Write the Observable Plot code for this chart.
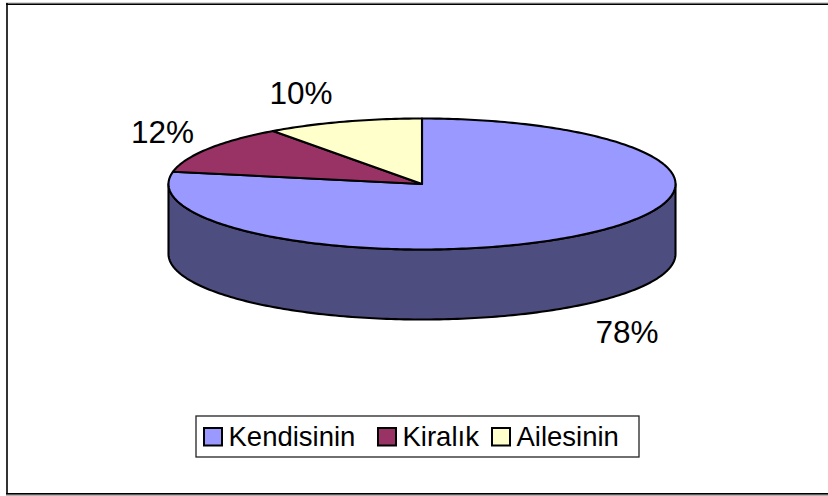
<!DOCTYPE html>
<html><head><meta charset="utf-8">
<script src="https://cdn.jsdelivr.net/npm/d3@7"></script>
<script src="https://cdn.jsdelivr.net/npm/@observablehq/plot@0.6"></script>
<style>html,body{margin:0;padding:0;background:#fff}svg{display:block}</style>
</head><body><div id="chart"></div>
<script>
const categories = ["Kendisinin", "Kiralık", "Ailesinin"];
const values = [78, 12, 10];
const labels = ["78%", "12%", "10%"];
const colors = ["#9999FF", "#993366", "#FFFFCC"];
const sideColor = "#4D4D80";

const cx = 421.5, cy = 183.5, rx = 253.5, ry = 65.5, depth = 70;
const font = "Liberation Sans, Arial, sans-serif";
const labelPos = [[626.5, 342], [162, 142], [300.5, 103]];
const swatchX = [204, 378, 492], textX = [228, 402, 516];

const total = d3.sum(values);
const pt = (f, dy = 0) => {
  const a = f * 2 * Math.PI;
  return {x: cx + rx * Math.sin(a), y: cy - ry * Math.cos(a) + dy};
};
const range = (a, b) => {
  const n = Math.max(2, Math.ceil(Math.abs(b - a) * 360));
  return Array.from({length: n + 1}, (_, i) => a + (b - a) * i / n);
};
let acc = 0;
const slices = values.map((v, i) => {
  const a = acc / total, b = (acc + v) / total;
  acc += v;
  return {i, points: [{x: cx, y: cy}, ...range(a, b).map(f => pt(f))]};
});
// Visible front wall: right-most point (quarter turn) round the bottom to the left-most point
const wall = [...range(0.25, 0.75).map(f => pt(f)), ...range(0.75, 0.25).map(f => pt(f, depth))];

const poly = (pts, fill, sw = 2.1) => Plot.line(pts, {x: "x", y: "y", z: null, curve: "linear-closed", fill, stroke: "#000", strokeWidth: sw, strokeLinejoin: "round"});

const plot = Plot.plot({
  width: 828, height: 496, margin: 0,
  x: {domain: [0, 828], range: [0, 828], axis: null},
  y: {domain: [0, 496], range: [0, 496], axis: null},
  style: {background: "#fff", fontFamily: font},
  marks: [
    Plot.ruleY([2.5], {x1: 6, x2: 828, stroke: "#aaa", strokeWidth: 1}),
    Plot.ruleY([494.5], {x1: 6, x2: 828, stroke: "#999", strokeWidth: 1.5}),
    Plot.ruleY([3.75], {x1: 6, x2: 828, stroke: "#000", strokeWidth: 1.5}),
    Plot.ruleY([493.25], {x1: 6, x2: 828, stroke: "#000", strokeWidth: 1.5}),
    Plot.ruleX([6.5], {y1: 3, y2: 494, stroke: "#000", strokeWidth: 1.6}),
    poly(wall, sideColor),
    ...slices.map(s => poly(s.points, colors[s.i])),
    Plot.text(labels, {x: (d, i) => labelPos[i][0], y: (d, i) => labelPos[i][1], text: d => d, fontSize: 31.5, fill: "#000", lineAnchor: "bottom"}),
    Plot.rect([0], {x1: 196, x2: 639, y1: 416, y2: 457, fill: "#fff", stroke: "#222", strokeWidth: 1.3}),
    Plot.rect(categories, {x1: (d, i) => swatchX[i], x2: (d, i) => swatchX[i] + 18, y1: 428, y2: 445.5, fill: (d, i) => colors[i], stroke: "#000", strokeWidth: 2}),
    Plot.text(categories, {x: (d, i) => textX[i], y: 445, text: d => d, textAnchor: "start", lineAnchor: "bottom", fontSize: 27.5, fill: "#000"})
  ]
});
document.getElementById("chart").append(plot);
</script></body></html>
